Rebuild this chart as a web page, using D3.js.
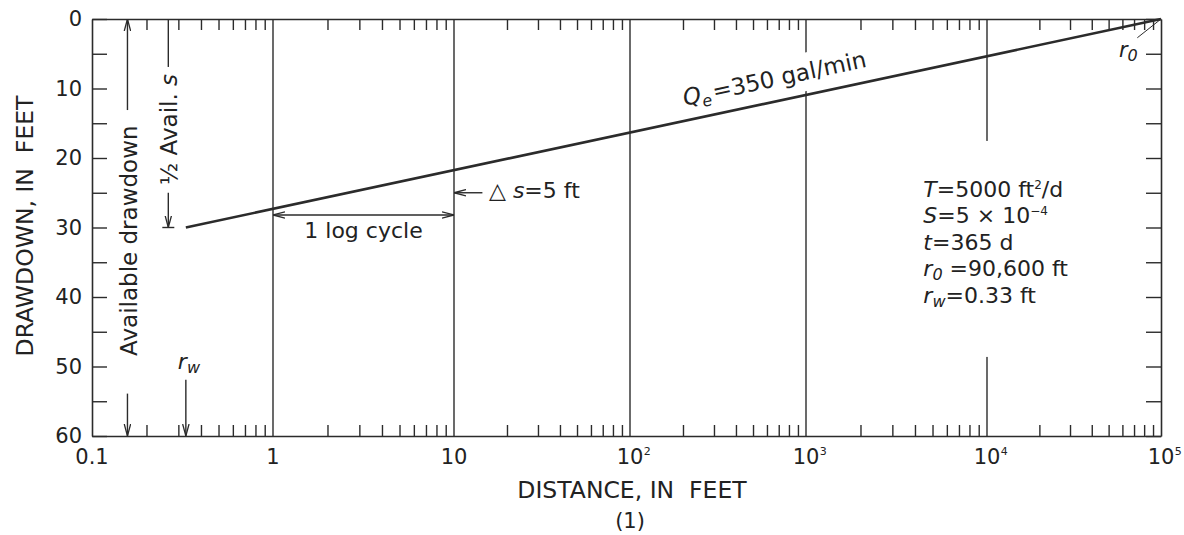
<!DOCTYPE html>
<html><head><meta charset="utf-8">
<script src="https://cdn.jsdelivr.net/npm/d3@7"></script>
<style>
html,body{margin:0;padding:0;background:#fff;}
svg text{font-family:"DejaVu Sans",sans-serif;fill:#222;white-space:pre;}
</style></head><body>
<svg id="c" width="1184" height="535"></svg>
<script>
// ---------------- data ----------------
const distance = [0.33, 100000];          // ft
const drawdown = [30, 0];                 // ft
const xDecades = [0.1, 1, 10, 100, 1000, 10000, 100000];
const xTickLabels = ["0.1", "1", "10", "10^2", "10^3", "10^4", "10^5"];
const gridDecades = [1, 10, 100, 1000, 10000];
const yTicks = [0, 5, 10, 15, 20, 25, 30, 35, 40, 45, 50, 55, 60];
const yTickLabels = ["0", "", "10", "", "20", "", "30", "", "40", "", "50", "", "60"];
const xTitle = "DISTANCE, IN  FEET";
const yTitle = "DRAWDOWN, IN  FEET";
const caption = "(1)";
// annotation anchors (data space)
const availX = 0.157, availTop = 13.1, availBottom = 53.9, availMid = 31.9;
const halfX = 0.264, halfTop = 6.9, halfArrowStart = 25.0, halfS = 30, halfMid = 15.9;
const rwX = 0.33, rwArrowStart = 51.9, rwLabelS = 50.3;
const logCycle = [1, 10], logCycleS = 28.2, logCycleTextS = 31.5;
const deltaArrow = [14.5, 10], deltaS = 25.0, deltaTextX = 15.8, deltaTextS = 25.75;
const qLabelX = 205, qLabel = ["Q", "e", "=350 gal/min"];
const r0Label = {x: 57300, s: 5.5, leadX: 73100, leadS: 2.7};
const paramsX = 4450, paramsS = 25.6;
const paramLines = [
  [{t:"T", i:1}, {t:"=5000 ft"}, {t:"2", sup:1}, {t:"/d"}],
  [{t:"S", i:1}, {t:"=5 × 10"}, {t:"−4", sup:1}],
  [{t:"t", i:1}, {t:"=365 d"}],
  [{t:"r", i:1}, {t:"0", i:1, sub:1}, {t:" =90,600 ft"}],
  [{t:"r", i:1}, {t:"w", i:1, sub:1}, {t:"=0.33 ft"}]
];

// ---------------- setup ----------------
const ink = "#2b2b2b";
const svg = d3.select("#c");
// piecewise log scale following the printed decade positions
const x = d3.scaleLog().domain(xDecades).range([92, 273, 454, 630, 806, 987, 1161]);
const y = d3.scaleLinear().domain([0, 60]).range([19, 436]);

const defs = svg.append("defs");
defs.append("marker").attr("id", "ah").attr("viewBox", "0 0 12 8")
  .attr("refX", 12).attr("refY", 4).attr("markerWidth", 12).attr("markerHeight", 8)
  .attr("markerUnits", "userSpaceOnUse").attr("orient", "auto-start-reverse")
  .append("path").attr("d", "M0,0.8L12,4L0,7.2").attr("fill", "none")
  .attr("stroke", ink).attr("stroke-width", 1.3);

// gridlines
svg.append("g").selectAll("line").data(gridDecades).join("line")
  .attr("x1", d => x(d)).attr("x2", d => x(d))
  .attr("y1", y(0)).attr("y2", y(60))
  .attr("stroke", ink).attr("stroke-width", 1.4);

const masks = svg.append("g");

// axes
const minorTicks = [];
xDecades.slice(0, -1).forEach(d => { for (let m = 2; m <= 9; m++) minorTicks.push(d * m); });

function styleAxis(g) {
  g.select(".domain").attr("stroke", ink).attr("stroke-width", 1.6);
  g.selectAll(".tick line").attr("stroke", ink).attr("stroke-width", 1.4);
  g.selectAll(".tick text").attr("font-family", "DejaVu Sans").attr("font-size", 21).attr("fill", "#222");
}
svg.append("g").attr("transform", `translate(0,${y(60)})`)
  .call(d3.axisBottom(x).tickValues(minorTicks).tickSize(-11).tickSizeOuter(0).tickFormat(""))
  .call(styleAxis);
svg.append("g").attr("transform", `translate(0,${y(0)})`)
  .call(d3.axisTop(x).tickValues(minorTicks).tickSize(-11).tickSizeOuter(0).tickFormat(""))
  .call(styleAxis);
svg.append("g").attr("transform", `translate(${x(0.1)},0)`)
  .call(d3.axisLeft(y).tickValues(yTicks).tickSize(-15).tickSizeOuter(0).tickPadding(10)
    .tickFormat((d, i) => yTickLabels[i]))
  .call(styleAxis);
svg.append("g").attr("transform", `translate(${x(1e5)},0)`)
  .call(d3.axisRight(y).tickValues(yTicks).tickSize(-15).tickSizeOuter(0).tickFormat(""))
  .call(styleAxis);

// x decade labels
const xl = svg.append("g");
xDecades.forEach((d, i) => {
  const [base, exp] = xTickLabels[i].split("^");
  const t = xl.append("text").attr("x", x(d)).attr("y", 464)
    .attr("text-anchor", "middle").attr("font-size", 21).text(base);
  if (exp) {
    const bb = t.node().getBBox();
    xl.append("text").attr("x", bb.x + bb.width + 0.5).attr("y", 455)
      .attr("font-size", 11).text(exp);
  }
});

// titles
svg.append("text").attr("x", 632).attr("y", 498).attr("text-anchor", "middle")
  .attr("font-size", 23.5).text(xTitle);
svg.append("text").attr("x", 630).attr("y", 528).attr("text-anchor", "middle")
  .attr("font-size", 21).text(caption);
svg.append("text").attr("transform", "translate(33,226) rotate(-90)")
  .attr("text-anchor", "middle").attr("font-size", 23.5).text(yTitle);

// main line
svg.append("path").datum(distance.map((d, i) => [d, drawdown[i]]))
  .attr("d", d3.line().x(d => x(d[0])).y(d => y(d[1])))
  .attr("fill", "none").attr("stroke", ink).attr("stroke-width", 2.6);

// Q_e label along the line
const ang = Math.atan2(y(drawdown[1]) - y(drawdown[0]), x(distance[1]) - x(distance[0])) * 180 / Math.PI;
const px0 = x(distance[0]), py0 = y(drawdown[0]), px1 = x(distance[1]), py1 = y(drawdown[1]);
const lineYAtPx = px => py0 + (py1 - py0) * (px - px0) / (px1 - px0);
const qg = svg.append("g")
  .attr("transform", `translate(${x(qLabelX)},${lineYAtPx(x(qLabelX)) - 15}) rotate(${ang})`);
const qt = qg.append("text").attr("font-size", 23);
qt.append("tspan").attr("font-style", "italic").text(qLabel[0]);
qt.append("tspan").attr("font-style", "italic").attr("font-size", 16).attr("dy", 5).text(qLabel[1]);
qt.append("tspan").attr("dy", -5).attr("dx", 2).text(qLabel[2]);
{
  const bb = qt.node().getBBox();
  qg.insert("rect", "text").attr("x", bb.x - 4).attr("y", bb.y - 6)
    .attr("width", bb.width + 8).attr("height", bb.height + 8).attr("fill", "#fff");
}

// parameter block
const pg = svg.append("g");
paramLines.forEach((line, i) => {
  const t = pg.append("text").attr("x", x(paramsX)).attr("y", y(paramsS) + i * 26.5).attr("font-size", 22);
  line.forEach(seg => {
    const ts = t.append("tspan").text(seg.t);
    if (seg.i) ts.attr("font-style", "italic");
    if (seg.sup) ts.attr("font-size", 12).attr("baseline-shift", "70%");
    if (seg.sub) ts.attr("font-size", 16).attr("baseline-shift", "-25%");
  });
});
{
  const bb = pg.node().getBBox();
  masks.append("rect").attr("x", bb.x - 6).attr("y", bb.y - 36)
    .attr("width", bb.width + 12).attr("height", bb.height + 82).attr("fill", "#fff");
}

// r0 label + leader
svg.append("line").attr("x1", x(1e5)).attr("y1", y(0)).attr("x2", x(r0Label.leadX)).attr("y2", y(r0Label.leadS))
  .attr("stroke", ink).attr("stroke-width", 1);
{
  const t = svg.append("text").attr("x", x(r0Label.x)).attr("y", y(r0Label.s)).attr("font-size", 21).attr("font-style", "italic");
  t.append("tspan").text("r");
  t.append("tspan").attr("font-size", 16).attr("baseline-shift", "-25%").text("0");
}

// helper arrow
function arrow(x1, y1, x2, y2, both) {
  const l = svg.append("line").attr("x1", x1).attr("y1", y1).attr("x2", x2).attr("y2", y2)
    .attr("stroke", ink).attr("stroke-width", 1.4).attr("marker-end", "url(#ah)");
  if (both) l.attr("marker-start", "url(#ah)");
  return l;
}
function vline(px, y1, y2) {
  svg.append("line").attr("x1", px).attr("x2", px).attr("y1", y1).attr("y2", y2)
    .attr("stroke", ink).attr("stroke-width", 1.4);
}

// Available drawdown
arrow(x(availX), y(availTop), x(availX), y(0));
arrow(x(availX), y(availBottom), x(availX), y(60));
svg.append("text").attr("transform", `translate(${x(availX) + 10},${y(availMid)}) rotate(-90)`)
  .attr("text-anchor", "middle").attr("font-size", 23).text("Available drawdown");

// 1/2 Avail. s
vline(x(halfX), y(0), y(halfTop));
arrow(x(halfX), y(halfArrowStart), x(halfX), y(halfS));
svg.append("line").attr("x1", x(halfX) - 6).attr("x2", x(halfX) + 6).attr("y1", y(halfS)).attr("y2", y(halfS))
  .attr("stroke", ink).attr("stroke-width", 1.4);
{
  const t = svg.append("text").attr("transform", `translate(${x(halfX) + 9},${y(halfMid)}) rotate(-90)`)
    .attr("text-anchor", "middle").attr("font-size", 23);
  t.append("tspan").text("½ Avail. ");
  t.append("tspan").attr("font-style", "italic").text("s");
}

// r_w
arrow(x(rwX), y(rwArrowStart), x(rwX), y(60));
{
  const t = svg.append("text").attr("x", x(rwX) - 8).attr("y", y(rwLabelS)).attr("font-size", 22).attr("font-style", "italic");
  t.append("tspan").text("r");
  t.append("tspan").attr("font-size", 16).attr("baseline-shift", "-25%").text("w");
}

// 1 log cycle
arrow(x(logCycle[0]), y(logCycleS), x(logCycle[1]), y(logCycleS), true);
svg.append("text").attr("x", x(Math.sqrt(logCycle[0] * logCycle[1]))).attr("y", y(logCycleTextS))
  .attr("text-anchor", "middle").attr("font-size", 22).text("1 log cycle");

// delta s
arrow(x(deltaArrow[0]), y(deltaS), x(deltaArrow[1]), y(deltaS));
{
  const t = svg.append("text").attr("x", x(deltaTextX)).attr("y", y(deltaTextS)).attr("font-size", 22);
  t.append("tspan").text("△ ");
  t.append("tspan").attr("font-style", "italic").text("s");
  t.append("tspan").text("=5 ft");
}
</script>
</body></html>
